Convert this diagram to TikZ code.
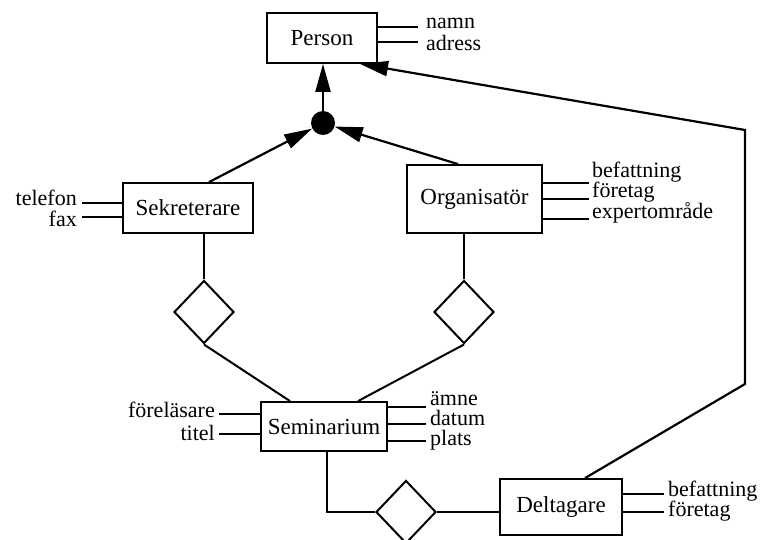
\documentclass[tikz,border=0pt]{standalone}
\usepackage{fontspec}
\setmainfont{Liberation Serif}
\usetikzlibrary{shapes.geometric,arrows.meta}
\begin{document}
\begin{tikzpicture}[x=1pt,y=-1pt,
  ent/.style={draw,line width=1.8pt,inner sep=0pt,font=\fontsize{23}{23}\selectfont},
  rel/.style={draw,diamond,line width=2pt,inner sep=0pt,minimum width=60pt,minimum height=63pt},
  lab/.style={inner sep=0pt,font=\fontsize{22}{22}\selectfont},
  con/.style={line width=2pt},
  att/.style={line width=1.8pt},
  arr/.style={line width=2.2pt,-{Triangle[length=28pt,width=15pt]}}
]
\useasboundingbox (0,0) rectangle (769,540);
% entities
\node[ent,minimum width=110pt,minimum height=50pt] (P) at (322,38) {Person};
\node[ent,minimum width=130pt,minimum height=50pt] (S) at (188,208) {Sekreterare};
\node[ent,minimum width=135pt,minimum height=68pt] (O) at (474.5,199) {Organisatör};
\node[ent,minimum width=126pt,minimum height=49pt] (Sem) at (324,426.5) {Seminarium};
\node[ent,minimum width=122pt,minimum height=56pt] (D) at (561,507) {Deltagare};
% generalisation circle
\node[circle,fill,inner sep=0pt,minimum size=24pt] (C) at (323,123) {};
% relationships
\node[rel] (R1) at (204,312) {};
\node[rel] (R2) at (464,312) {};
\node[rel] (R3) at (406,512) {};
% attributes Person
\draw[att] (P.east |- 0,27) -- ++(40,0);
\draw[att] (P.east |- 0,42) -- ++(40,0);
\node[lab,anchor=base west] (namn) at (426,29) {namn};
\node[lab,anchor=base west] (adress) at (426,51) {adress};
% attributes Sekreterare
\draw[att] (S.west |- 0,203) -- ++(-40,0);
\draw[att] (S.west |- 0,217) -- ++(-40,0);
\node[lab,anchor=base east] (tel) at (77,206) {telefon};
\node[lab,anchor=base east] (fax) at (77,227) {fax};
% attributes Organisatör
\draw[att] (O.east |- 0,183) -- ++(46,0);
\draw[att] (O.east |- 0,199) -- ++(46,0);
\draw[att] (O.east |- 0,219) -- ++(46,0);
\node[lab,anchor=base west] (bef1) at (592,178) {befattning};
\node[lab,anchor=base west] (for1) at (592,198) {företag};
\node[lab,anchor=base west] (exp) at (592,219) {expertområde};
% attributes Seminarium
\draw[att] (Sem.west |- 0,414) -- ++(-41,0);
\draw[att] (Sem.west |- 0,434) -- ++(-41,0);
\node[lab,anchor=base east] (forel) at (215,417) {föreläsare};
\node[lab,anchor=base east] (titel) at (215,440) {titel};
\draw[att] (Sem.east |- 0,407) -- ++(38,0);
\draw[att] (Sem.east |- 0,424) -- ++(38,0);
\draw[att] (Sem.east |- 0,441) -- ++(38,0);
\node[lab,anchor=base west] (amne) at (430,405) {ämne};
\node[lab,anchor=base west] (datum) at (430,425) {datum};
\node[lab,anchor=base west] (plats) at (430,445) {plats};
% attributes Deltagare
\draw[att] (D.east |- 0,494) -- ++(41,0);
\draw[att] (D.east |- 0,512) -- ++(41,0);
\node[lab,anchor=base west] (bef2) at (668,496) {befattning};
\node[lab,anchor=base west] (for2) at (668,516) {företag};
% generalisation arrows
\draw[arr] (C.north) -- (C.north |- P.south);
\draw[arr] (S.north -| 209,0) -- (C);
\draw[arr] (O.north -| 458,0) -- (C);
% relationships lines
\draw[con] (S.south -| R1.north) -- (R1.north);
\draw[con] (O.south -| R2.north) -- (R2.north);
\draw[con] (R1.south) -- (Sem.north -| 290,0);
\draw[con] (R2.south) -- (Sem.north -| 358,0);
\draw[con] (Sem.south -| 327,0) |- (R3.west);
\draw[con] (R3.east) -- (R3.east -| D.west);
% Deltagare is a Person
\coordinate (k1) at (745,384);
\coordinate (k2) at (745,130);
\draw[arr] (D.north -| 585,0) -- (k1) -- (k2) -- (P.south east -| 360,0);
\end{tikzpicture}
\end{document}
